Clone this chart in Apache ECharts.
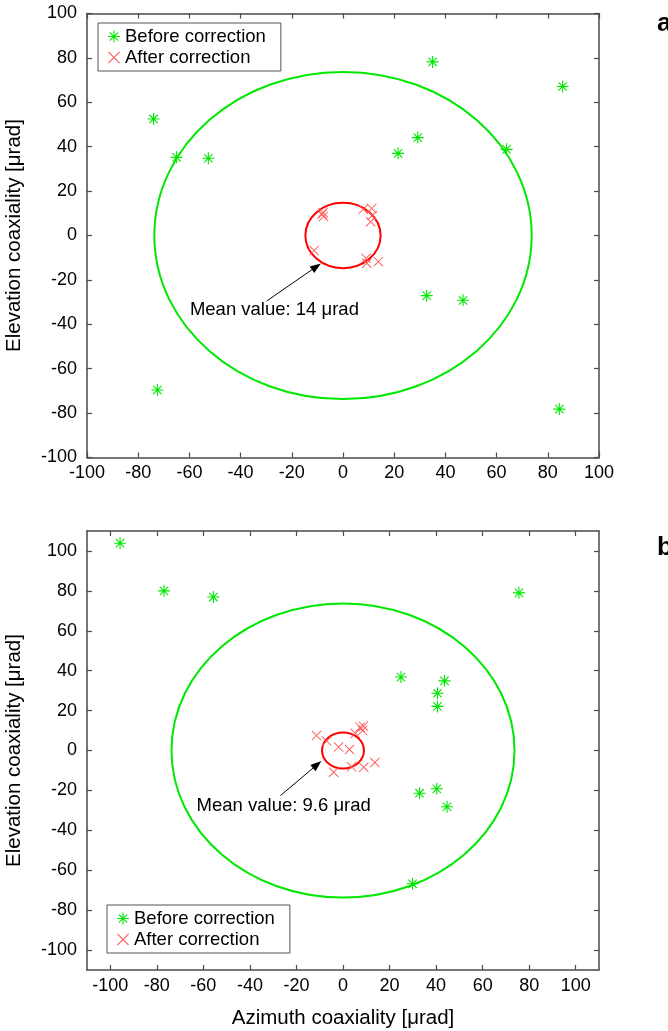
<!DOCTYPE html>
<html><head><meta charset="utf-8">
<script src="https://cdn.jsdelivr.net/npm/echarts@6/dist/echarts.min.js"></script>
<style>html,body{margin:0;padding:0;background:#fff}#c{width:668px;height:1031px}</style>
</head><body><div id="c"></div>
<script>
// ---- data ----
const ticksA = [-100, -80, -60, -40, -20, 0, 20, 40, 60, 80, 100];
const ticksB = [-100, -80, -60, -40, -20, 0, 20, 40, 60, 80, 100];
const seriesNames = ['Before correction', 'After correction'];

const beforeA = [[-74, 52.5], [-65, 35.2], [-52.6, 34.8], [35, 78.2], [85.8, 67.1], [29.2, 44.1],
  [21.5, 37], [63.9, 38.8], [-72.5, -69.6], [32.7, -27.1], [46.9, -29.2], [84.5, -78.2]];
const afterA = [[-8.1, 9.6], [-7.6, 8.6], [-7.8, 10.4], [7.9, 11.8], [11.2, 12.2], [11.4, 9.0],
  [10.8, 6.2], [-11.3, -6.8], [9.0, -10.3], [9.3, -12.5], [13.8, -11.8]];
const ringsA = { before: [0, 0, 73.7], after: [0, 0, 14.7] };
const noteA = { arrow: [-29.8, -29.5, -8.6, -12.6, -59.8, -33.6], text: 'Mean value: 14 μrad' };

const beforeB = [[-95.8, 103.9], [-76.9, 80], [-55.7, 76.9], [75.6, 79], [24.9, 36.8], [43.6, 34.9],
  [40.6, 28.7], [40.6, 22.1], [32.9, -21.4], [40.3, -19.2], [44.7, -28.2], [29.9, -66.8]];
const afterB = [[-11.4, 7.5], [-7, 4.7], [-1.9, 1.7], [2.8, 0.5], [7.4, 11.7], [8.8, 12.2], [8.4, 10],
  [5.3, 8.6], [-4, -10.9], [3.7, -8.2], [8.9, -8.4], [13.7, -6.0]];
const ringsB = { before: [0, 0, 73.7], after: [0, 0, 9.0] };
const noteB = { arrow: [-26.9, -22.6, -9.3, -5.3, -62.9, -27.9], text: 'Mean value: 9.6 μrad' };

// ---- styles ----
const FONT = '"Liberation Sans", Arial, sans-serif';
const GREEN = '#00e800';
const RED = '#ff0000';
const XRED = '#ff5a5a';
const AX = '#4a4a4a';
// filled (not stroked) marker outlines
const STAR = 'path://M0 4.55L10 4.55L10 5.45L0 5.45Z' +
  'M5.45 0L5.45 10L4.55 10L4.55 0Z' +
  'M1.82 1.18L8.82 8.18L8.18 8.82L1.18 1.82Z' +
  'M8.18 1.18L8.82 1.82L1.82 8.82L1.18 8.18Z';
const CROSS = 'path://M0.35 -0.35L10.35 9.65L9.65 10.35L-0.35 0.35Z' +
  'M9.65 -0.35L10.35 0.35L0.35 10.35L-0.35 9.65Z';

function ringItem(color) {
  return function (params, api) {
    const c = api.coord([api.value(0), api.value(1)]);
    const s = api.size([api.value(2), api.value(2)]);
    return { type: 'ellipse', silent: true,
      shape: { cx: c[0], cy: c[1], rx: s[0], ry: s[1] },
      style: { fill: 'none', stroke: color, lineWidth: 2 } };
  };
}
function noteItem(text) {
  return function (params, api) {
    const p1 = api.coord([api.value(0), api.value(1)]);
    const p2 = api.coord([api.value(2), api.value(3)]);
    const pt = api.coord([api.value(4), api.value(5)]);
    const ang = Math.atan2(p2[1] - p1[1], p2[0] - p1[0]);
    const L = 11, W = 4;
    const bx = p2[0] - L * Math.cos(ang), by = p2[1] - L * Math.sin(ang);
    const nx = -Math.sin(ang) * W, ny = Math.cos(ang) * W;
    return { type: 'group', silent: true, children: [
      { type: 'line', shape: { x1: p1[0], y1: p1[1], x2: bx, y2: by }, style: { stroke: '#000', lineWidth: 1 } },
      { type: 'polygon', shape: { points: [[p2[0], p2[1]], [bx + nx, by + ny], [bx - nx, by - ny]] }, style: { fill: '#000' } },
      { type: 'text', x: pt[0], y: pt[1], style: { text: text, fill: '#000', font: '18.5px ' + FONT, verticalAlign: 'middle', align: 'left' } }
    ] };
  };
}

function xAx(grid, min, max, ticks, pos, labels, name) {
  return { type: 'value', gridIndex: grid, min: min, max: max, position: pos,
    name: name || '', nameLocation: 'middle', nameGap: 38,
    nameTextStyle: { fontSize: 20.5, color: '#000', fontFamily: FONT },
    axisLine: { show: true, onZero: false, lineStyle: { color: AX, width: 1.5 } },
    axisTick: { show: true, inside: true, length: 5, customValues: ticks, lineStyle: { color: AX, width: 1.2 } },
    axisLabel: { show: labels, customValues: ticks, margin: 7, fontSize: 18, color: '#000', fontFamily: FONT },
    splitLine: { show: false } };
}
function yAx(grid, min, max, ticks, pos, labels, name) {
  return { type: 'value', gridIndex: grid, min: min, max: max, position: pos,
    name: name || '', nameLocation: 'middle', nameGap: 62,
    nameTextStyle: { fontSize: 20.5, color: '#000', fontFamily: FONT },
    axisLine: { show: true, onZero: false, lineStyle: { color: AX, width: 1.5 } },
    axisTick: { show: true, inside: true, length: 5, customValues: ticks, lineStyle: { color: AX, width: 1.2 } },
    axisLabel: { show: labels, customValues: ticks, margin: 10, fontSize: 18, color: '#000', fontFamily: FONT },
    splitLine: { show: false } };
}

function panelSeries(xi, yi, before, after, rings, note) {
  return [
    { type: 'custom', name: 'ringBefore' + xi, xAxisIndex: xi, yAxisIndex: yi, renderItem: ringItem(GREEN), data: [rings.before], z: 2 },
    { type: 'custom', name: 'ringAfter' + xi, xAxisIndex: xi, yAxisIndex: yi, renderItem: ringItem(RED), data: [rings.after], z: 2 },
    { type: 'custom', name: 'note' + xi, xAxisIndex: xi, yAxisIndex: yi, renderItem: noteItem(note.text), data: [note.arrow], z: 3 },
    { type: 'scatter', name: seriesNames[0], xAxisIndex: xi, yAxisIndex: yi, data: before,
      symbol: STAR, symbolSize: 12, itemStyle: { color: GREEN, borderWidth: 0, opacity: 1 }, z: 4 },
    { type: 'scatter', name: seriesNames[1], xAxisIndex: xi, yAxisIndex: yi, data: after,
      symbol: CROSS, symbolSize: 10, itemStyle: { color: XRED, borderWidth: 0, opacity: 1 }, z: 4 }
  ];
}

function legendCfg(left, top) {
  return { orient: 'vertical', left: left, top: top, padding: [4, 15, 4, 10], itemGap: 2,
    itemWidth: 12, itemHeight: 12, borderColor: '#555', borderWidth: 1, backgroundColor: '#fff',
    selectedMode: false,
    textStyle: { fontSize: 18.5, color: '#000', fontFamily: FONT },
    data: [
      { name: seriesNames[0], icon: STAR, itemStyle: { color: GREEN, borderWidth: 0, opacity: 1 } },
      { name: seriesNames[1], icon: CROSS, itemStyle: { color: XRED, borderWidth: 0, opacity: 1 } }
    ] };
}

const chart = echarts.init(document.getElementById('c'), null, { renderer: 'canvas' });
chart.setOption({
  animation: false,
  backgroundColor: '#fff',
  title: [
    { text: 'a', left: 652, top: 6, textStyle: { fontSize: 26, fontWeight: 'bold', color: '#000', fontFamily: FONT } },
    { text: 'b', left: 652, top: 530, textStyle: { fontSize: 26, fontWeight: 'bold', color: '#000', fontFamily: FONT } }
  ],
  grid: [
    { left: 87, top: 13.5, width: 512, height: 444, containLabel: false, outerBoundsMode: 'none' },
    { left: 87, top: 531, width: 512, height: 439, containLabel: false, outerBoundsMode: 'none' }
  ],
  legend: [legendCfg(98, 23), legendCfg(107, 905)],
  xAxis: [
    xAx(0, -100, 100, ticksA, 'bottom', true),
    xAx(0, -100, 100, ticksA, 'top', false),
    xAx(1, -110, 110, ticksB, 'bottom', true, 'Azimuth coaxiality [μrad]'),
    xAx(1, -110, 110, ticksB, 'top', false)
  ],
  yAxis: [
    yAx(0, -100, 100, ticksA, 'left', true, 'Elevation coaxiality [μrad]'),
    yAx(0, -100, 100, ticksA, 'right', false),
    yAx(1, -110, 110, ticksB, 'left', true, 'Elevation coaxiality [μrad]'),
    yAx(1, -110, 110, ticksB, 'right', false)
  ],
  series: [].concat(
    panelSeries(0, 0, beforeA, afterA, ringsA, noteA),
    panelSeries(2, 2, beforeB, afterB, ringsB, noteB)
  )
});
</script>
</body></html>
